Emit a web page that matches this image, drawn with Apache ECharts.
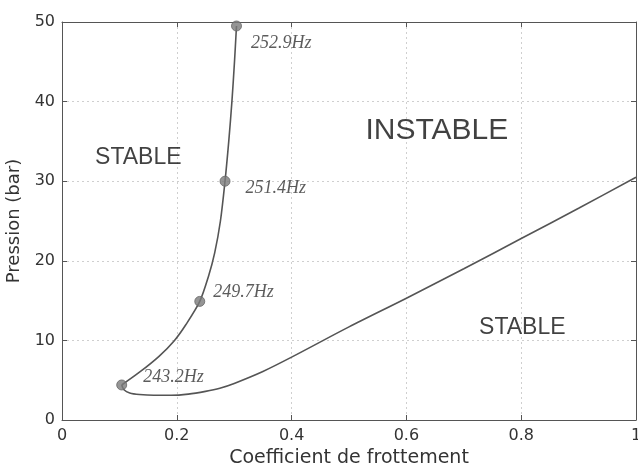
<!DOCTYPE html>
<html>
<head>
<meta charset="utf-8">
<script src="https://cdn.jsdelivr.net/npm/echarts@6/dist/echarts.min.js"></script>
<style>html,body{margin:0;padding:0;background:#fff}#c{width:638px;height:465px}</style>
</head>
<body>
<div id="c"></div>
<script>
// Stability boundary: upper branch (from the 243.2Hz point up to 50 bar)
const upperX = [0.104, 0.135, 0.169, 0.196, 0.216, 0.240, 0.255, 0.266, 0.276, 0.284, 0.2905, 0.296, 0.3005, 0.304];
const upperY = [4.4, 6.0, 8.0, 10.0, 12.0, 14.9, 18.0, 21.0, 25.0, 30.0, 35.0, 40.0, 45.0, 49.5];
// Lower branch (from the 243.2Hz point out to friction coefficient 1)
const lowerX = [0.104, 0.108, 0.118, 0.135, 0.160, 0.190, 0.220, 0.250, 0.275, 0.300, 0.350, 0.400, 0.500, 0.600, 0.700, 0.800, 0.900, 1.000];
const lowerY = [4.4, 3.8, 3.4, 3.2, 3.1, 3.1, 3.25, 3.6, 4.0, 4.6, 6.1, 7.9, 11.7, 15.3, 19.0, 22.8, 26.6, 30.5];
// Marked points with frequency labels
const markerX = [0.304, 0.284, 0.240, 0.104];
const markerY = [49.5, 30, 14.9, 4.4];
const markerLabels = ['252.9Hz', '251.4Hz', '249.7Hz', '243.2Hz'];
// Region annotations
const regionText = ['STABLE', 'INSTABLE', 'STABLE'];
const regionX = [0.133, 0.653, 0.802];
const regionY = [32.9, 36.4, 11.6];
const regionSize = [23, 30, 23];
// Axis ticks
const xTicks = [0, 0.2, 0.4, 0.6, 0.8, 1];
const yTicks = [0, 10, 20, 30, 40, 50];

const labelOffsets = [[4, 17], [10, 7], [3, -9], [11, -8]];

const chart = echarts.init(document.getElementById('c'));
const gridLine = {show: true, lineStyle: {color: '#cfcfcf', type: [2, 3], width: 1}};
const axisLine = {show: true, onZero: false, lineStyle: {color: '#555', width: 1}};
const tickFont = {color: '#333', fontFamily: 'DejaVu Sans', fontSize: 16};
const curveStyle = {type: 'line', smooth: 0.3, showSymbol: false, lineStyle: {color: '#555', width: 1.6}, z: 2};

chart.setOption({
  animation: false,
  backgroundColor: '#fff',
  grid: {left: 62, right: 2, top: 22, bottom: 45, containLabel: false, outerBoundsMode: 'none'},
  xAxis: [{
    type: 'value', min: 0, max: 1, interval: 0.2,
    axisLine: axisLine,
    axisTick: {show: true, inside: true, length: 5, lineStyle: {color: '#555'}},
    axisLabel: Object.assign({margin: 8, formatter: v => xTicks.includes(+v.toFixed(1)) ? String(+v.toFixed(1)) : ''}, tickFont),
    splitLine: gridLine,
    name: 'Coefficient de frottement', nameLocation: 'middle', nameGap: 25,
    nameTextStyle: {color: '#333', fontFamily: 'DejaVu Sans', fontSize: 19}
  }, {
    type: 'value', min: 0, max: 1, interval: 0.2, position: 'top',
    axisLine: axisLine,
    axisTick: {show: true, inside: true, length: 5, lineStyle: {color: '#555'}},
    axisLabel: {show: false}, splitLine: {show: false}
  }],
  yAxis: [{
    type: 'value', min: 0, max: 50, interval: 10,
    axisLine: axisLine,
    axisTick: {show: true, inside: true, length: 5, lineStyle: {color: '#555'}},
    axisLabel: Object.assign({margin: 7, formatter: v => yTicks.includes(v) ? String(v) : ''}, tickFont),
    splitLine: gridLine,
    name: 'Pression (bar)', nameLocation: 'middle', nameGap: 32,
    nameTextStyle: {color: '#333', fontFamily: 'DejaVu Sans', fontSize: 18}
  }, {
    type: 'value', min: 0, max: 50, interval: 10, position: 'right',
    axisLine: axisLine,
    axisTick: {show: true, inside: true, length: 5, lineStyle: {color: '#555'}},
    axisLabel: {show: false}, splitLine: {show: false}
  }],
  series: [
    Object.assign({data: upperX.map((x, i) => [x, upperY[i]])}, curveStyle),
    Object.assign({data: lowerX.map((x, i) => [x, lowerY[i]])}, curveStyle),
    {
      type: 'scatter',
      data: markerX.map((x, i) => ({
        value: [x, markerY[i]],
        label: {offset: labelOffsets[i]}
      })),
      symbolSize: 10,
      itemStyle: {color: '#7a7a7a', borderColor: '#666', borderWidth: 1},
      label: {
        show: true, position: 'right',
        formatter: p => markerLabels[p.dataIndex],
        fontFamily: 'Liberation Serif', fontStyle: 'italic', fontSize: 18, color: '#333'
      },
      z: 3
    }, {
      type: 'scatter',
      data: regionX.map((x, i) => ({
        value: [x, regionY[i]],
        label: {fontSize: regionSize[i]}
      })),
      symbolSize: 0,
      silent: true,
      label: {
        show: true, position: 'inside',
        formatter: p => regionText[p.dataIndex],
        fontFamily: 'Liberation Sans', color: '#111'
      },
      z: 4
    }
  ]
});
</script>
</body>
</html>
